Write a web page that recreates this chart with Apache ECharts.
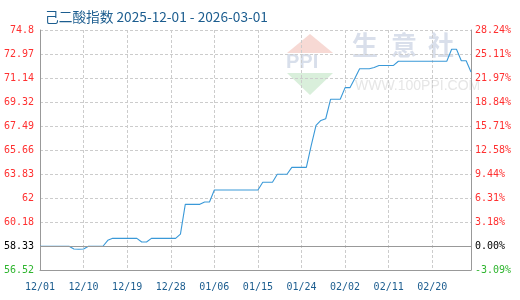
<!DOCTYPE html>
<html>
<head>
<meta charset="utf-8">
<script src="https://cdn.jsdelivr.net/npm/echarts@6/dist/echarts.min.js"></script>
<style>html,body{margin:0;padding:0;background:#fff}#c{width:520px;height:300px}</style>
</head>
<body>
<div id="c"></div>
<script>
// ---- data ----
const startDate = '2025-12-01';
const dayCount = 90; // 12/01 .. 02/28
const indexValues = [
  58.33,58.33,58.33,58.33,58.33,58.33,58.33,58.12,58.10,58.12,
  58.33,58.33,58.33,58.33,58.78,58.93,58.93,58.93,58.93,58.93,
  58.93,58.65,58.65,58.93,58.93,58.93,58.93,58.93,58.93,59.25,
  61.52,61.52,61.52,61.52,61.70,61.70,62.61,62.61,62.61,62.61,
  62.61,62.61,62.61,62.61,62.61,62.61,63.20,63.20,63.20,63.81,
  63.81,63.81,64.34,64.34,64.34,64.34,66.00,67.53,67.91,68.04,
  69.52,69.52,69.52,70.41,70.41,71.10,71.85,71.85,71.85,71.95,
  72.10,72.10,72.10,72.10,72.42,72.42,72.42,72.42,72.42,72.42,
  72.42,72.42,72.42,72.42,72.42,73.33,73.33,72.46,72.46,71.60
];
const leftLabels = ['56.52','58.33','60.18','62','63.83','65.66','67.49','69.32','71.14','72.97','74.8'];
const rightLabels = ['-3.09%','0.00%','3.18%','6.31%','9.44%','12.58%','15.71%','18.84%','21.97%','25.11%','28.24%'];
const axisMin = 56.52, axisMax = 74.8, baseValue = 58.33;
const titleText = '己二酸指数 2025-12-01 - 2026-03-01';

// ---- build ----
const categories = [];
{
  const d0 = new Date(startDate + 'T00:00:00Z');
  for (let i = 0; i < dayCount; i++) {
    const d = new Date(d0.getTime() + i * 86400000);
    const mm = String(d.getUTCMonth() + 1).padStart(2, '0');
    const dd = String(d.getUTCDate()).padStart(2, '0');
    categories.push(mm + '/' + dd);
  }
}
const step = (axisMax - axisMin) / 10;
const span = axisMax - axisMin;
const plotData = indexValues.map(v => +(v - axisMin).toFixed(4));
function labIdx(v){ return Math.round(v / step); }
function labColor(v){ const i = labIdx(v); return i === 0 ? '#2fb52f' : (i === 1 ? '#000' : '#ff3030'); }
const mono = '"DejaVu Sans Mono", monospace';

const chart = echarts.init(document.getElementById('c'), null, {renderer: 'canvas'});
chart.setOption({
  animation: false,
  backgroundColor: '#fff',
  title: {
    text: titleText, left: 40, top: 5,
    textStyle: {fontFamily: '"Noto Sans CJK SC", sans-serif', fontSize: 13.7, fontWeight: 'normal', color: '#1c5d8f'}
  },
  graphic: [
    {type: 'polygon', z: -10, shape: {points: [[310,34],[333,53],[287,53]]}, style: {fill: '#f7d9d4'}},
    {type: 'polygon', z: -10, shape: {points: [[287,73],[333,73],[310,95]]}, style: {fill: '#d9efdb'}},
    {type: 'text', z: -10, left: 286, top: 52, style: {text: 'PPI', font: 'bold 20px "Liberation Sans"', fill: '#d8dfeb'}},
    {type: 'text', z: -10, left: 352, top: 32, style: {text: '生', font: 'bold 26px "Noto Sans CJK SC"', fill: '#d9dfeb'}},
    {type: 'text', z: -10, left: 391, top: 32, style: {text: '意', font: 'bold 26px "Noto Sans CJK SC"', fill: '#d9dfeb'}},
    {type: 'text', z: -10, left: 428, top: 32, style: {text: '社', font: 'bold 26px "Noto Sans CJK SC"', fill: '#d9dfeb'}},
    {type: 'text', z: -10, left: 355, top: 79, style: {text: 'WWW.100PPI.COM', font: '14px "Liberation Sans"', fill: '#e6e6e6'}}
  ],
  grid: {left: 40, right: 49, top: 30, bottom: 30, containLabel: false},
  xAxis: {
    type: 'category', data: categories, boundaryGap: false,
    axisLine: {lineStyle: {color: '#999', width: 1}},
    axisTick: {show: false},
    axisLabel: {interval: 8, margin: 12, color: '#1c5d8f', fontFamily: mono, fontSize: 10},
    splitLine: {show: true, interval: 8, lineStyle: {color: '#ccc', type: [3, 2]}}
  },
  yAxis: [
    {
      type: 'value', min: 0, max: span, interval: step, position: 'left',
      axisLine: {show: true, lineStyle: {color: '#999'}},
      axisTick: {show: false},
      axisLabel: {margin: 6, fontFamily: mono, fontSize: 10, color: v => labColor(v), formatter: v => leftLabels[labIdx(v)]},
      splitLine: {show: true, lineStyle: {color: '#ccc', type: [3, 2]}}
    },
    {
      type: 'value', min: 0, max: span, interval: step, position: 'right',
      axisLine: {show: true, lineStyle: {color: '#999'}},
      axisTick: {show: false},
      axisLabel: {margin: 4, fontFamily: mono, fontSize: 10, color: v => labColor(v), formatter: v => rightLabels[labIdx(v)]},
      splitLine: {show: false}
    }
  ],
  series: [{
    type: 'line', data: plotData, yAxisIndex: 0, showSymbol: false, symbol: 'none',
    lineStyle: {color: '#3a99d8', width: 1.1},
    markLine: {
      silent: true, symbol: 'none', label: {show: false},
      lineStyle: {color: '#999', type: 'solid', width: 1},
      data: [{yAxis: +(baseValue - axisMin).toFixed(4)}]
    },
    z: 3
  }]
});
</script>
</body>
</html>
